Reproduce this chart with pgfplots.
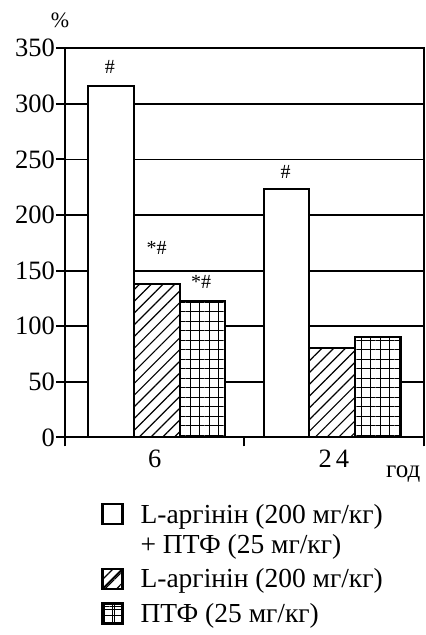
\documentclass[border=0pt]{standalone}
\usepackage{fontspec}
\setmainfont{Liberation Serif}
\usepackage{pgfplots}
\pgfplotsset{compat=1.18}
\usetikzlibrary{patterns.meta}

\begin{document}
\begin{tikzpicture}
\begin{axis}[
  scale only axis, width=358.5pt, height=389.2pt,
  xmin=0, xmax=2, ymin=0, ymax=350,
  xtick={0,1,2}, xticklabels={6,{2\kern4pt 4}}, x tick label as interval,
  ytick={0,50,...,350},
  xtick pos=left, ytick pos=left, tick align=outside,
  major tick length=9pt,
  ymajorgrids, grid style={black, line width=1.8pt},
  axis line style={line width=2pt}, tick style={black, line width=2pt},
  tick label style={font=\fontsize{26.5}{30}\selectfont},
  yticklabel style={inner xsep=1pt},
  /pgf/number format/assume math mode=true,
  ybar, bar width=0.255,
  clip=false,
  legend style={at={(axis cs:0.185,-56)}, anchor=north west, draw=none, fill=none,
    font=\fontsize{27.5}{30}\selectfont, nodes={align=left, inner xsep=6pt}, row sep=10pt, column sep=11pt},
  legend cell align=left,
]
\addplot[draw=black, line width=2pt, fill=white, bar shift=-0.255,
  legend image code/.code={\draw[black,line width=2.2pt,fill=white] (0pt,5pt) rectangle (20pt,25pt);}]
  coordinates {(0.5125,316.4) (1.49,223.7)};
\addlegendentry{L-аргінін (200 мг/кг)\\+ ПТФ (25 мг/кг)}
\addplot[draw=black, line width=2pt, fill=white, bar shift=0,
  postaction={pattern={Lines[angle=45,distance=8.3pt,line width=1.2pt]}},
  legend image code/.code={\draw[black,line width=2.2pt,fill=white] (0pt,-10pt) rectangle (20pt,10pt); \draw[black,line width=1.5pt] (0pt,-10pt) -- (20pt,10pt);}]
  coordinates {(0.5125,138) (1.49,80.8)};
\addlegendentry{L-аргінін (200 мг/кг)}
\addplot[draw=black, line width=2pt, fill=white, bar shift=0.255,
  postaction={pattern={Hatch[angle=0,distance=9.5pt,line width=1pt]}},
  legend image code/.code={\draw[black,line width=2.2pt,fill=white] (0pt,-10pt) rectangle (20pt,10pt); \draw[black,line width=1.2pt] (10pt,-10pt) -- (10pt,10pt) (0pt,-2pt) -- (20pt,-2pt) (0pt,4pt) -- (20pt,4pt);}]
  coordinates {(0.5125,122.8) (1.49,90.6)};
\addlegendentry{ПТФ (25 мг/кг)}

\node[font=\fontsize{20}{22}\selectfont] at (axis cs:0.251,333.5) {\#};
\node[font=\fontsize{20}{22}\selectfont] at (axis cs:0.511,170.1) {*\#};
\node[font=\fontsize{20}{22}\selectfont] at (axis cs:0.759,139.5) {*\#};
\node[font=\fontsize{20}{22}\selectfont] at (axis cs:1.231,239) {\#};
\node[font=\fontsize{22}{24}\selectfont] at (axis cs:-0.028,375.4) {\%};
\node[font=\fontsize{25}{28}\selectfont] at (axis cs:1.887,-32.8) {год};

\coordinate (bbll) at (axis cs:-0.3626,-177.6);
\coordinate (bbur) at (axis cs:2.0084,393.4);
\end{axis}
\pgfresetboundingbox
\useasboundingbox (bbll) rectangle (bbur);
\end{tikzpicture}
\end{document}
